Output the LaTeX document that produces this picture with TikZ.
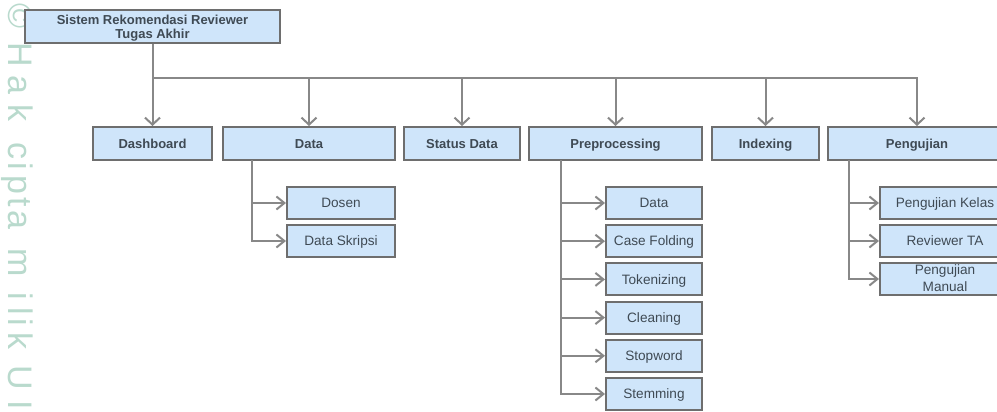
\documentclass[tikz,border=0pt]{standalone}
\usepackage{fontspec}
\setmainfont{Liberation Sans}
\usetikzlibrary{arrows.meta}
\definecolor{boxfill}{HTML}{CFE5FA}
\definecolor{boxline}{HTML}{6E6E6E}
\definecolor{connline}{HTML}{888888}
\definecolor{txt}{HTML}{3F4A54}
\definecolor{wm}{HTML}{B9DACD}
\tikzset{
  base/.style={draw=boxline, fill=boxfill, line width=2pt, inner sep=0pt, text=txt, font=\fontsize{13.6}{14}\selectfont, text height=10pt, text depth=0.7pt},
  topbox/.style={base, minimum height=33pt, font=\fontsize{13}{14}\selectfont\bfseries},
  subbox/.style={base, minimum height=32pt},
  conn/.style={draw=connline, line width=2pt},
  darr/.style={conn, -{Straight Barb[length=7pt,width=15pt]}},
  harr/.style={conn, -{Straight Barb[length=8pt,width=13pt]}},
  wmch/.style={text=wm, font=\fontsize{34}{34}\selectfont, rotate=-90, anchor=base, inner sep=0pt}
}
\begin{document}
\begin{tikzpicture}[x=1pt,y=-1pt]
\useasboundingbox (0,0) rectangle (997,412);
\clip (0,0) rectangle (997,412);
\fill[white] (0,0) rectangle (997,412);
% watermark
\foreach \c/\yy in {©/16,H/55,a/85,k/113,c/151,i/166,p/185,t/202,a/220,m/263,i/296,l/311,i/322,k/341,U/378,I/405,N/428}
  \node[wmch] (w\yy) at (8.5,\yy) {\c};
% root
\node[topbox, minimum width=255pt, align=center, text height=25pt, text depth=0.7pt] (root) at (152.5,26.5) {Sistem Rekomendasi Reviewer\\Tugas Akhir};
% top level
\node[topbox, minimum width=119pt] (dash) at (152.5,143.5) {Dashboard};
\node[topbox, minimum width=172pt] (data) at (309,143.5) {Data};
\node[topbox, minimum width=116pt] (status) at (462,143.5) {Status Data};
\node[topbox, minimum width=173pt] (prep) at (615.5,143.5) {Preprocessing};
\node[topbox, minimum width=107pt] (idx) at (765.5,143.5) {Indexing};
\node[topbox, minimum width=178pt] (peng) at (917,143.5) {Pengujian};
% bus
\coordinate (bus) at (152.5,78);
\draw[conn] (root.south) -- (bus);
\draw[darr] (bus) -| (peng.north);
\foreach \n in {dash,data,status,prep,idx}
  \draw[darr] (bus -| \n.north) -- (\n.north);
% Data children
\node[subbox, minimum width=108pt] (dosen) at (341,203) {Dosen};
\node[subbox, minimum width=108pt] (skripsi) at (341,241) {Data Skripsi};
\coordinate (dtr) at (252,160);
\draw[harr] (dtr) |- (dosen.west);
\draw[harr] (dtr) |- (skripsi.west);
% Preprocessing children
\node[subbox, minimum width=96pt] (p1) at (654,203) {Data};
\node[subbox, minimum width=96pt] (p2) at (654,241.2) {Case Folding};
\node[subbox, minimum width=96pt] (p3) at (654,279.4) {Tokenizing};
\node[subbox, minimum width=96pt] (p4) at (654,317.6) {Cleaning};
\node[subbox, minimum width=96pt] (p5) at (654,355.8) {Stopword};
\node[subbox, minimum width=96pt] (p6) at (654,394) {Stemming};
\coordinate (ptr) at (561,160);
\foreach \n in {p1,p2,p3,p4,p5,p6}
  \draw[harr] (ptr) |- (\n.west);
% Pengujian children
\node[subbox, minimum width=130pt] (g1) at (945,203) {Pengujian Kelas};
\node[subbox, minimum width=130pt] (g2) at (945,241) {Reviewer TA};
\node[subbox, minimum width=130pt, font=\fontsize{13.6}{17}\selectfont, align=center, text height=26pt, text depth=0.7pt] (g3) at (945,279) {Pengujian\\Manual};
\coordinate (gtr) at (849,160);
\foreach \n in {g1,g2,g3}
  \draw[harr] (gtr) |- (\n.west);
\end{tikzpicture}
\end{document}
